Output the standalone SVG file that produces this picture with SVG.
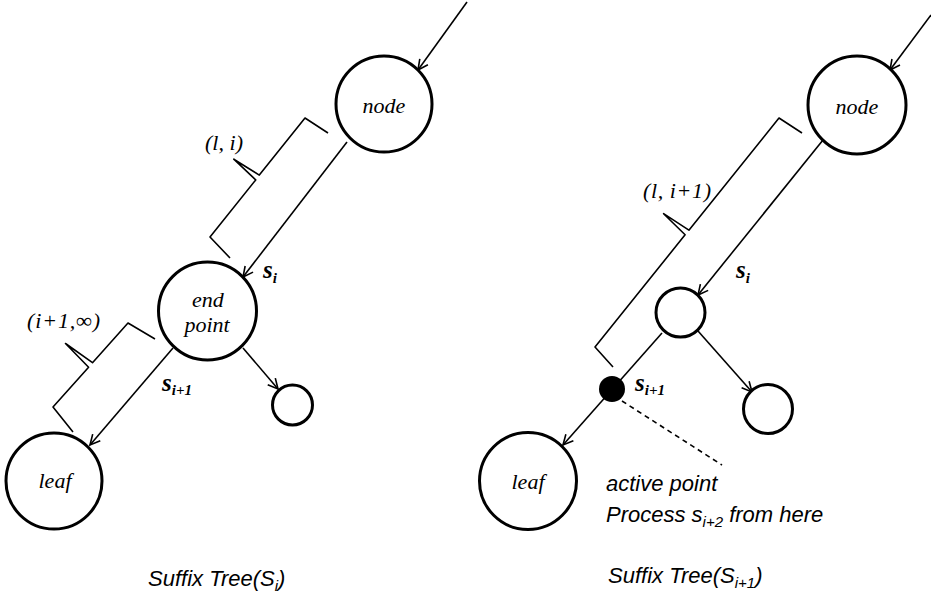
<svg xmlns="http://www.w3.org/2000/svg" width="931" height="597" viewBox="0 0 931 597">
<defs>
<marker id="arr" markerUnits="userSpaceOnUse" markerWidth="14" markerHeight="14" refX="11" refY="6" orient="auto"><path d="M1,1 L11,6 L1,11" fill="none" stroke="#000" stroke-width="1.6"/></marker>
</defs>
<style>
.n{fill:#fff;stroke:#000;stroke-width:3}
.e{stroke:#000;stroke-width:1.6;fill:none}
.b{stroke:#000;stroke-width:1.6;fill:none;stroke-linejoin:round}
.t{font-family:"Liberation Serif",serif;font-style:italic;font-size:22px;text-anchor:middle}
.l{font-family:"Liberation Serif",serif;font-style:italic;font-size:22px}
.s{font-family:"Liberation Serif",serif;font-style:italic;font-weight:bold;font-size:25px}
.sub{font-size:15px}
.a{font-family:"Liberation Sans",Arial,sans-serif;font-style:italic;font-size:22px}
.asub{font-size:15px}
</style>
<rect width="931" height="597" fill="#fff"/>
<g id="connectors">
<line class="e" x1="467" y1="2" x2="418" y2="70" marker-end="url(#arr)"/>
<line class="e" x1="347" y1="142" x2="243" y2="277" marker-end="url(#arr)"/>
<line class="e" x1="173" y1="348" x2="90" y2="445" marker-end="url(#arr)"/>
<line class="e" x1="243" y1="348" x2="278" y2="389" marker-end="url(#arr)"/>
<line class="e" x1="931" y1="15" x2="890" y2="70" marker-end="url(#arr)"/>
<line class="e" x1="823" y1="140" x2="698" y2="295" marker-end="url(#arr)"/>
<line class="e" x1="662" y1="333" x2="563" y2="445" marker-end="url(#arr)"/>
<line class="e" x1="698" y1="331" x2="752" y2="392" marker-end="url(#arr)"/>
<line class="e" x1="622" y1="401" x2="722" y2="465" stroke-dasharray="5,4"/>
</g>
<g id="braces">
<path class="b" d="M328,133 L305,118 L259.3,175.1 L233.8,159.2 L255.7,179.9 L210,237 L230,258"/>
<path class="b" d="M155,339 L128,323 L92.5,362.7 L65.5,343.5 L88.6,367.3 L53,407 L73,432"/>
<path class="b" d="M802,133 L779,118 L688.9,230.2 L663.6,213.7 L685.1,234.8 L595,347 L613,367"/>
<text class="l" x="205" y="150" textLength="38">(l, i)</text>
<text class="l" x="27" y="328" textLength="73">(i+1,∞)</text>
<text class="l" x="643" y="198" textLength="68">(l, i+1)</text>
</g>
<g id="left-node"><circle class="n" cx="384" cy="104" r="48"/><text class="t" x="384" y="113">node</text></g>
<g id="left-endpoint"><circle class="n" cx="207.5" cy="311" r="49"/><text class="t" x="208" y="307">end</text><text class="t" x="207" y="332">point</text></g>
<g id="left-leaf"><circle class="n" cx="54" cy="481" r="48"/><text class="t" x="55" y="488">leaf</text></g>
<g id="left-small"><circle class="n" cx="292.5" cy="405" r="20"/></g>
<g id="right-node"><circle class="n" cx="857" cy="105" r="49"/><text class="t" x="857" y="114">node</text></g>
<g id="right-inner"><circle class="n" cx="680.5" cy="312.5" r="24.5"/></g>
<g id="right-dot"><circle cx="612" cy="389" r="13" fill="#000"/></g>
<g id="right-small"><circle class="n" cx="768" cy="409" r="24.5"/></g>
<g id="right-leaf"><circle class="n" cx="528" cy="481" r="48.5"/><text class="t" x="528" y="489">leaf</text></g>
<g id="labels">
<text class="s" x="263" y="278">s<tspan class="sub" dy="5">i</tspan></text>
<text class="s" x="162" y="391">s<tspan class="sub" dy="4">i+1</tspan></text>
<text class="s" x="736" y="278">s<tspan class="sub" dy="5">i</tspan></text>
<text class="s" x="635" y="391">s<tspan class="sub" dy="4">i+1</tspan></text>
<text class="a" x="606" y="491">active point</text>
<text class="a" x="606" y="522">Process s<tspan class="asub" dy="5">i+2</tspan><tspan dy="-5"> from here</tspan></text>
<text class="a" x="148" y="586">Suffix Tree(S<tspan class="asub" dy="5">i</tspan><tspan dy="-5">)</tspan></text>
<text class="a" x="608" y="583">Suffix Tree(S<tspan class="asub" dy="5">i+1</tspan><tspan dy="-5">)</tspan></text>
</g>
</svg>
